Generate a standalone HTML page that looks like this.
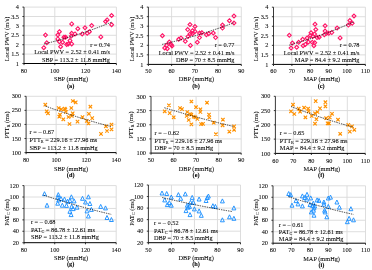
<!DOCTYPE html>
<html><head><meta charset="utf-8"><style>
html,body{margin:0;padding:0;background:#fff;}
svg{display:block;will-change:transform;}
text{font-family:"Liberation Serif", serif;font-size:6.3px;fill:#000;stroke:#000;stroke-width:0.06px;}
</style></head><body>
<svg width="372" height="270" viewBox="0 0 372 270">
<rect width="372" height="270" fill="#fff"/>
<path d="M54.8 7.1V63.5M85.6 7.1V63.5M116.4 7.1V63.5M24 54.1H116.4M24 44.7H116.4M24 35.3H116.4M24 25.9H116.4M24 16.5H116.4M24 7.1H116.4" stroke="#d9d9d9" stroke-width="0.9" fill="none"/>
<path d="M24 7.1V63.5M22.4 63.5H24M22.4 54.1H24M22.4 44.7H24M22.4 35.3H24M22.4 25.9H24M22.4 16.5H24M22.4 7.1H24M24 63.5V65.1M54.8 63.5V65.1M85.6 63.5V65.1M116.4 63.5V65.1" stroke="#222" stroke-width="0.9" fill="none"/>
<path d="M24 63.5H116.4" stroke="#000" stroke-width="1.0" fill="none"/>
<path d="M45.5 33.05L47.45 35L45.5 36.95L43.55 35ZM46.8 40.85L48.75 42.8L46.8 44.75L44.85 42.8ZM43.8 45.75L45.75 47.7L43.8 49.65L41.85 47.7ZM59.4 29.75L61.35 31.7L59.4 33.65L57.45 31.7ZM57.8 33.05L59.75 35L57.8 36.95L55.85 35ZM57.8 36.95L59.75 38.9L57.8 40.85L55.85 38.9ZM59.4 39.75L61.35 41.7L59.4 43.65L57.45 41.7ZM62.6 40.25L64.55 42.2L62.6 44.15L60.65 42.2ZM63.9 35.25L65.85 37.2L63.9 39.15L61.95 37.2ZM65.6 35.25L67.55 37.2L65.6 39.15L63.65 37.2ZM60.6 44.75L62.55 46.7L60.6 48.65L58.65 46.7ZM66.7 42.45L68.65 44.4L66.7 46.35L64.75 44.4ZM68.3 41.95L70.25 43.9L68.3 45.85L66.35 43.9ZM71.7 41.95L73.65 43.9L71.7 45.85L69.75 43.9ZM70 38.65L71.95 40.6L70 42.55L68.05 40.6ZM71.7 31.35L73.65 33.3L71.7 35.25L69.75 33.3ZM71.4 34.15L73.35 36.1L71.4 38.05L69.45 36.1ZM75 31.95L76.95 33.9L75 35.85L73.05 33.9ZM77.8 26.75L79.75 28.7L77.8 30.65L75.85 28.7ZM82.2 31.95L84.15 33.9L82.2 35.85L80.25 33.9ZM85 25.85L86.95 27.8L85 29.75L83.05 27.8ZM87.2 31.35L89.15 33.3L87.2 35.25L85.25 33.3ZM89.4 29.75L91.35 31.7L89.4 33.65L87.45 31.7ZM91.7 23.65L93.65 25.6L91.7 27.55L89.75 25.6ZM71.7 21.95L73.65 23.9L71.7 25.85L69.75 23.9ZM100.8 34.95L102.75 36.9L100.8 38.85L98.85 36.9ZM105.6 19.45L107.55 21.4L105.6 23.35L103.65 21.4ZM107.1 17.95L109.05 19.9L107.1 21.85L105.15 19.9ZM111.6 13.55L113.55 15.5L111.6 17.45L109.65 15.5ZM111.6 22.75L113.55 24.7L111.6 26.65L109.65 24.7Z" stroke="#ff1466" stroke-width="1.1" fill="none"/>
<path d="M43.9 43.98Q77.8 35.99 111.7 22.09" stroke="#000" stroke-width="0.75" stroke-dasharray="1.4 1.0" fill="none"/>
<text x="19" y="65.6" text-anchor="end">1</text>
<text x="19" y="56.2" text-anchor="end">1.5</text>
<text x="19" y="46.8" text-anchor="end">2</text>
<text x="19" y="37.4" text-anchor="end">2.5</text>
<text x="19" y="28" text-anchor="end">3</text>
<text x="19" y="18.6" text-anchor="end">3.5</text>
<text x="19" y="9.2" text-anchor="end">4</text>
<text x="24" y="72.7" text-anchor="middle">80</text>
<text x="54.8" y="72.7" text-anchor="middle">100</text>
<text x="85.6" y="72.7" text-anchor="middle">120</text>
<text x="116.4" y="72.7" text-anchor="middle">140</text>
<text x="71" y="81.3" text-anchor="middle">SBP (mmHg)</text>
<text x="70.7" y="87.5" text-anchor="middle" font-weight="bold">(a)</text>
<text transform="translate(9.3 39) rotate(-90)" text-anchor="middle">Local PWV (m/s)</text>
<text x="110" y="46.7" text-anchor="end">r = 0.74</text>
<text x="110" y="54.4" text-anchor="end">Local PWV = 2.52 ± 0.41 m/s</text>
<text x="110" y="61.7" text-anchor="end">SBP = 113.2 ± 11.8 mmHg</text>
<path d="M171.62 7.1V64.4M194.85 7.1V64.4M218.08 7.1V64.4M241.3 7.1V64.4M148.4 54.85H241.3M148.4 45.3H241.3M148.4 35.75H241.3M148.4 26.2H241.3M148.4 16.65H241.3M148.4 7.1H241.3" stroke="#d9d9d9" stroke-width="0.9" fill="none"/>
<path d="M148.4 7.1V64.4M146.8 64.4H148.4M146.8 54.85H148.4M146.8 45.3H148.4M146.8 35.75H148.4M146.8 26.2H148.4M146.8 16.65H148.4M146.8 7.1H148.4M148.4 64.4V66M171.62 64.4V66M194.85 64.4V66M218.08 64.4V66M241.3 64.4V66" stroke="#222" stroke-width="0.9" fill="none"/>
<path d="M148.4 64.4H241.3" stroke="#000" stroke-width="1.0" fill="none"/>
<path d="M162.4 33.75L164.35 35.7L162.4 37.65L160.45 35.7ZM164.7 46.05L166.65 48L164.7 49.95L162.75 48ZM167.3 46.75L169.25 48.7L167.3 50.65L165.35 48.7ZM166.7 43.35L168.65 45.3L166.7 47.25L164.75 45.3ZM169.3 40.05L171.25 42L169.3 43.95L167.35 42ZM171.3 42.75L173.25 44.7L171.3 46.65L169.35 44.7ZM172 44.05L173.95 46L172 47.95L170.05 46ZM178.7 37.35L180.65 39.3L178.7 41.25L176.75 39.3ZM181 36.05L182.95 38L181 39.95L179.05 38ZM185.3 39.35L187.25 41.3L185.3 43.25L183.35 41.3ZM187.7 27.65L189.65 29.6L187.7 31.55L185.75 29.6ZM190 22.55L191.95 24.5L190 26.45L188.05 24.5ZM188 34.55L189.95 36.5L188 38.45L186.05 36.5ZM190.2 31.85L192.15 33.8L190.2 35.75L188.25 33.8ZM190.4 43.45L192.35 45.4L190.4 47.35L188.45 45.4ZM192.5 28.75L194.45 30.7L192.5 32.65L190.55 30.7ZM195 24.55L196.95 26.5L195 28.45L193.05 26.5ZM195 29.45L196.95 31.4L195 33.35L193.05 31.4ZM192.4 31.75L194.35 33.7L192.4 35.65L190.45 33.7ZM199.5 31.05L201.45 33L199.5 34.95L197.55 33ZM201.8 30.75L203.75 32.7L201.8 34.65L199.85 32.7ZM199.5 35.65L201.45 37.6L199.5 39.55L197.55 37.6ZM197.3 40.25L199.25 42.2L197.3 44.15L195.35 42.2ZM206.4 32.85L208.35 34.8L206.4 36.75L204.45 34.8ZM208.7 31.75L210.65 33.7L208.7 35.65L206.75 33.7ZM213.3 31.05L215.25 33L213.3 34.95L211.35 33ZM215.6 35.65L217.55 37.6L215.6 39.55L213.65 37.6ZM222.5 23.05L224.45 25L222.5 26.95L220.55 25ZM222.5 26.15L224.45 28.1L222.5 30.05L220.55 28.1ZM229.4 18.75L231.35 20.7L229.4 22.65L227.45 20.7ZM234 14.15L235.95 16.1L234 18.05L232.05 16.1ZM234 21.05L235.95 23L234 24.95L232.05 23Z" stroke="#ff1466" stroke-width="1.1" fill="none"/>
<path d="M162.1 44.42Q198 36.18 233.9 22.78" stroke="#000" stroke-width="0.75" stroke-dasharray="1.4 1.0" fill="none"/>
<text x="143.4" y="66.5" text-anchor="end">1</text>
<text x="143.4" y="56.95" text-anchor="end">1.5</text>
<text x="143.4" y="47.4" text-anchor="end">2</text>
<text x="143.4" y="37.85" text-anchor="end">2.5</text>
<text x="143.4" y="28.3" text-anchor="end">3</text>
<text x="143.4" y="18.75" text-anchor="end">3.5</text>
<text x="143.4" y="9.2" text-anchor="end">4</text>
<text x="148.4" y="73.3" text-anchor="middle">50</text>
<text x="171.62" y="73.3" text-anchor="middle">60</text>
<text x="194.85" y="73.3" text-anchor="middle">70</text>
<text x="218.08" y="73.3" text-anchor="middle">80</text>
<text x="241.3" y="73.3" text-anchor="middle">90</text>
<text x="196.4" y="81.3" text-anchor="middle">DBP (mmHg)</text>
<text x="196.1" y="87.6" text-anchor="middle" font-weight="bold">(b)</text>
<text transform="translate(133.7 39) rotate(-90)" text-anchor="middle">Local PWV (m/s)</text>
<text x="234.5" y="47.2" text-anchor="end">r = 0.77</text>
<text x="234.5" y="54.8" text-anchor="end">Local PWV = 2.52 ± 0.41 m/s</text>
<text x="234.5" y="62.1" text-anchor="end">DBP = 70 ± 8.5 mmHg</text>
<path d="M291.88 7.2V64.4M310.26 7.2V64.4M328.64 7.2V64.4M347.02 7.2V64.4M365.4 7.2V64.4M273.5 54.87H365.4M273.5 45.33H365.4M273.5 35.8H365.4M273.5 26.27H365.4M273.5 16.73H365.4M273.5 7.2H365.4" stroke="#d9d9d9" stroke-width="0.9" fill="none"/>
<path d="M273.5 7.2V64.4M271.9 64.4H273.5M271.9 54.87H273.5M271.9 45.33H273.5M271.9 35.8H273.5M271.9 26.27H273.5M271.9 16.73H273.5M271.9 7.2H273.5M273.5 64.4V66M291.88 64.4V66M310.26 64.4V66M328.64 64.4V66M347.02 64.4V66M365.4 64.4V66" stroke="#222" stroke-width="0.9" fill="none"/>
<path d="M273.5 64.4H365.4" stroke="#000" stroke-width="1.0" fill="none"/>
<path d="M289.3 33.35L291.25 35.3L289.3 37.25L287.35 35.3ZM292.4 41.15L294.35 43.1L292.4 45.05L290.45 43.1ZM291.1 46.05L293.05 48L291.1 49.95L289.15 48ZM296.7 45.35L298.65 47.3L296.7 49.25L294.75 47.3ZM298.7 40.35L300.65 42.3L298.7 44.25L296.75 42.3ZM302.7 37.35L304.65 39.3L302.7 41.25L300.75 39.3ZM303.1 43.75L305.05 45.7L303.1 47.65L301.15 45.7ZM305.3 42.45L307.25 44.4L305.3 46.35L303.35 44.4ZM307.1 36.05L309.05 38L307.1 39.95L305.15 38ZM308.4 40.05L310.35 42L308.4 43.95L306.45 42ZM311 30.75L312.95 32.7L311 34.65L309.05 32.7ZM310.3 33.55L312.25 35.5L310.3 37.45L308.35 35.5ZM312.3 40.35L314.25 42.3L312.3 44.25L310.35 42.3ZM313.9 43.75L315.85 45.7L313.9 47.65L311.95 45.7ZM314.7 40.75L316.65 42.7L314.7 44.65L312.75 42.7ZM315 22.25L316.95 24.2L315 26.15L313.05 24.2ZM315.8 27.55L317.75 29.5L315.8 31.45L313.85 29.5ZM314.6 32.05L316.55 34L314.6 35.95L312.65 34ZM317 35.65L318.95 37.6L317 39.55L315.05 37.6ZM319.2 35.25L321.15 37.2L319.2 39.15L317.25 37.2ZM312.7 34.45L314.65 36.4L312.7 38.35L310.75 36.4ZM325.1 23.85L327.05 25.8L325.1 27.75L323.15 25.8ZM325.1 29.15L327.05 31.1L325.1 33.05L323.15 31.1ZM326.6 31.35L328.55 33.3L326.6 35.25L324.65 33.3ZM324.3 32.85L326.25 34.8L324.3 36.75L322.35 34.8ZM328.8 31.35L330.75 33.3L328.8 35.25L326.85 33.3ZM331.8 30.65L333.75 32.6L331.8 34.55L329.85 32.6ZM337.1 26.15L339.05 28.1L337.1 30.05L335.15 28.1ZM340.1 35.95L342.05 37.9L340.1 39.85L338.15 37.9ZM348.4 23.15L350.35 25.1L348.4 27.05L346.45 25.1ZM349.9 18.55L351.85 20.5L349.9 22.45L347.95 20.5ZM352.2 21.35L354.15 23.3L352.2 25.25L350.25 23.3ZM354 14.05L355.95 16L354 17.95L352.05 16Z" stroke="#ff1466" stroke-width="1.1" fill="none"/>
<path d="M289.2 45.13Q321.4 36.28 353.5 22.04" stroke="#000" stroke-width="0.75" stroke-dasharray="1.4 1.0" fill="none"/>
<text x="268.5" y="66.5" text-anchor="end">1</text>
<text x="268.5" y="56.97" text-anchor="end">1.5</text>
<text x="268.5" y="47.43" text-anchor="end">2</text>
<text x="268.5" y="37.9" text-anchor="end">2.5</text>
<text x="268.5" y="28.37" text-anchor="end">3</text>
<text x="268.5" y="18.83" text-anchor="end">3.5</text>
<text x="268.5" y="9.3" text-anchor="end">4</text>
<text x="273.5" y="73.3" text-anchor="middle">60</text>
<text x="291.88" y="73.3" text-anchor="middle">70</text>
<text x="310.26" y="73.3" text-anchor="middle">80</text>
<text x="328.64" y="73.3" text-anchor="middle">90</text>
<text x="347.02" y="73.3" text-anchor="middle">100</text>
<text x="365.4" y="73.3" text-anchor="middle">110</text>
<text x="321.8" y="81.3" text-anchor="middle">MAP (mmHg)</text>
<text x="321.2" y="87.6" text-anchor="middle" font-weight="bold">(c)</text>
<text transform="translate(258.1 39) rotate(-90)" text-anchor="middle">Local PWV (m/s)</text>
<text x="359.5" y="47.1" text-anchor="end">r = 0.78</text>
<text x="359.5" y="54.8" text-anchor="end">Local PWV = 2.52 ± 0.41 m/s</text>
<text x="359.5" y="62.1" text-anchor="end">MAP = 84.4 ± 9.2 mmHg</text>
<path d="M56.13 96.3V152.6M86.17 96.3V152.6M116.2 96.3V152.6M26.1 138.53H116.2M26.1 124.45H116.2M26.1 110.38H116.2M26.1 96.3H116.2" stroke="#d9d9d9" stroke-width="0.9" fill="none"/>
<path d="M26.1 96.3V152.6M24.5 152.6H26.1M24.5 138.53H26.1M24.5 124.45H26.1M24.5 110.38H26.1M24.5 96.3H26.1M26.1 152.6V154.2M56.13 152.6V154.2M86.17 152.6V154.2M116.2 152.6V154.2" stroke="#222" stroke-width="0.9" fill="none"/>
<path d="M26.1 152.6H116.2" stroke="#000" stroke-width="1.0" fill="none"/>
<path d="M43.6 103L47 106.4M47 103L43.6 106.4M45 109.6L48.4 113M48.4 109.6L45 113M46.3 111.6L49.7 115M49.7 111.6L46.3 115M57 106.3L60.4 109.7M60.4 106.3L57 109.7M59.6 107.6L63 111M63 107.6L59.6 111M58.3 113L61.7 116.4M61.7 113L58.3 116.4M57.6 115L61 118.4M61 115L57.6 118.4M63 107L66.4 110.4M66.4 107L63 110.4M61.6 117.6L65 121M65 117.6L61.6 121M64.3 110.3L67.7 113.7M67.7 110.3L64.3 113.7M63.7 107.8L67.1 111.2M67.1 107.8L63.7 111.2M69.6 106.3L73 109.7M73 106.3L69.6 109.7M71.1 99.3L74.5 102.7M74.5 99.3L71.1 102.7M74 100.7L77.4 104.1M77.4 100.7L74 104.1M66.8 115.3L70.2 118.7M70.2 115.3L66.8 118.7M67.8 122.3L71.2 125.7M71.2 122.3L67.8 125.7M71 111.6L74.4 115M74.4 111.6L71 115M70.1 114.3L73.5 117.7M73.5 114.3L70.1 117.7M75.8 119.9L79.2 123.3M79.2 119.9L75.8 123.3M80.8 115.4L84.2 118.8M84.2 115.4L80.8 118.8M88.7 105L92.1 108.4M92.1 105L88.7 108.4M87.2 112.1L90.6 115.5M90.6 112.1L87.2 115.5M90.5 116.4L93.9 119.8M93.9 116.4L90.5 119.8M85.1 119.2L88.5 122.6M88.5 119.2L85.1 122.6M86.8 121.8L90.2 125.2M90.2 121.8L86.8 125.2M104.2 124.6L107.6 128M107.6 124.6L104.2 128M109.8 122.8L113.2 126.2M113.2 122.8L109.8 126.2M109.8 127.6L113.2 131M113.2 127.6L109.8 131M105.3 129.3L108.7 132.7M108.7 129.3L105.3 132.7M99.3 132.2L102.7 135.6M102.7 132.2L99.3 135.6" stroke="#ff9100" stroke-width="1.15" fill="none"/>
<path d="M45.4 106.11Q78.5 118.19 111.5 126.68" stroke="#000" stroke-width="0.75" stroke-dasharray="1.4 1.0" fill="none"/>
<text x="21.1" y="154.7" text-anchor="end">100</text>
<text x="21.1" y="140.62" text-anchor="end">150</text>
<text x="21.1" y="126.55" text-anchor="end">200</text>
<text x="21.1" y="112.47" text-anchor="end">250</text>
<text x="21.1" y="98.4" text-anchor="end">300</text>
<text x="26.1" y="162.1" text-anchor="middle">80</text>
<text x="56.13" y="162.1" text-anchor="middle">100</text>
<text x="86.17" y="162.1" text-anchor="middle">120</text>
<text x="116.2" y="162.1" text-anchor="middle">140</text>
<text x="71" y="170.5" text-anchor="middle">SBP (mmHg)</text>
<text x="70.7" y="176.7" text-anchor="middle" font-weight="bold">(d)</text>
<text transform="translate(8.8 125) rotate(-90)" text-anchor="middle">PTT<tspan font-size="4.2" dy="1.2">R</tspan><tspan dy="-1.2"> (ms)</tspan></text>
<text x="29.6" y="134.4" text-anchor="start">r = – 0.67</text>
<text x="29.6" y="142" text-anchor="start">PTT<tspan font-size="4.2" dy="1.2">R</tspan><tspan dy="-1.2"> = 229.16 ± 27.96 ms</tspan></text>
<text x="29.6" y="149.5" text-anchor="start">SBP = 113.2 ± 11.8 mmHg</text>
<path d="M173.55 96.4V153.1M196.1 96.4V153.1M218.65 96.4V153.1M241.2 96.4V153.1M151 138.93H241.2M151 124.75H241.2M151 110.58H241.2M151 96.4H241.2" stroke="#d9d9d9" stroke-width="0.9" fill="none"/>
<path d="M151 96.4V153.1M149.4 153.1H151M149.4 138.93H151M149.4 124.75H151M149.4 110.58H151M149.4 96.4H151M151 153.1V154.7M173.55 153.1V154.7M196.1 153.1V154.7M218.65 153.1V154.7M241.2 153.1V154.7" stroke="#222" stroke-width="0.9" fill="none"/>
<path d="M151 153.1H241.2" stroke="#000" stroke-width="1.0" fill="none"/>
<path d="M167.2 103.6L170.6 107M170.6 103.6L167.2 107M163 109.6L166.4 113M166.4 109.6L163 113M168 111.4L171.4 114.8M171.4 111.4L168 114.8M172 115.6L175.4 119M175.4 115.6L172 119M178.3 106.3L181.7 109.7M181.7 106.3L178.3 109.7M180.3 107.4L183.7 110.8M183.7 107.4L180.3 110.8M189.7 99.8L193.1 103.2M193.1 99.8L189.7 103.2M194.3 105.5L197.7 108.9M197.7 105.5L194.3 108.9M185.6 110.3L189 113.7M189 110.3L185.6 113.7M188.3 112.3L191.7 115.7M191.7 112.3L188.3 115.7M185 114.3L188.4 117.7M188.4 114.3L185 117.7M189.6 113L193 116.4M193 113L189.6 116.4M187 118.3L190.4 121.7M190.4 118.3L187 121.7M189.7 122.7L193.1 126.1M193.1 122.7L189.7 126.1M193.6 115.6L197 119M197 115.6L193.6 119M205.3 101L208.7 104.4M208.7 101L205.3 104.4M198.7 107.6L202.1 111M202.1 107.6L198.7 111M198.7 110.3L202.1 113.7M202.1 110.3L198.7 113.7M192 115L195.4 118.4M195.4 115L192 118.4M195.7 117.3L199.1 120.7M199.1 117.3L195.7 120.7M199.4 122.4L202.8 125.8M202.8 122.4L199.4 125.8M201.3 122.2L204.7 125.6M204.7 122.2L201.3 125.6M207.3 112.8L210.7 116.2M210.7 112.8L207.3 116.2M207.6 115.8L211 119.2M211 115.8L207.6 119.2M212 121L215.4 124.4M215.4 121L212 124.4M221.2 118L224.6 121.4M224.6 118L221.2 121.4M220.9 123.6L224.3 127M224.3 123.6L220.9 127M214.2 132.5L217.6 135.9M217.6 132.5L214.2 135.9M227.6 129.9L231 133.3M231 129.9L227.6 133.3M232.4 124.7L235.8 128.1M235.8 124.7L232.4 128.1M232.4 128.1L235.8 131.5M235.8 128.1L232.4 131.5" stroke="#ff9100" stroke-width="1.15" fill="none"/>
<path d="M164.4 107.75Q199.2 118.47 234.1 126.58" stroke="#000" stroke-width="0.75" stroke-dasharray="1.4 1.0" fill="none"/>
<text x="146" y="155.2" text-anchor="end">100</text>
<text x="146" y="141.03" text-anchor="end">150</text>
<text x="146" y="126.85" text-anchor="end">200</text>
<text x="146" y="112.67" text-anchor="end">250</text>
<text x="146" y="98.5" text-anchor="end">300</text>
<text x="151" y="162.3" text-anchor="middle">50</text>
<text x="173.55" y="162.3" text-anchor="middle">60</text>
<text x="196.1" y="162.3" text-anchor="middle">70</text>
<text x="218.65" y="162.3" text-anchor="middle">80</text>
<text x="241.2" y="162.3" text-anchor="middle">90</text>
<text x="196.4" y="170.5" text-anchor="middle">DBP (mmHg)</text>
<text x="196.1" y="176.8" text-anchor="middle" font-weight="bold">(e)</text>
<text transform="translate(133.1 125) rotate(-90)" text-anchor="middle">PTT<tspan font-size="4.2" dy="1.2">R</tspan><tspan dy="-1.2"> (ms)</tspan></text>
<text x="154.6" y="135.3" text-anchor="start">r = – 0.62</text>
<text x="154.6" y="142.6" text-anchor="start">PTT<tspan font-size="4.2" dy="1.2">R</tspan><tspan dy="-1.2"> = 229.16 ± 27.96 ms</tspan></text>
<text x="154.6" y="149.8" text-anchor="start">DBP = 70 ± 8.5 mmHg</text>
<path d="M293.38 96.3V153.4M311.36 96.3V153.4M329.34 96.3V153.4M347.32 96.3V153.4M365.3 96.3V153.4M275.4 139.12H365.3M275.4 124.85H365.3M275.4 110.58H365.3M275.4 96.3H365.3" stroke="#d9d9d9" stroke-width="0.9" fill="none"/>
<path d="M275.4 96.3V153.4M273.8 153.4H275.4M273.8 139.12H275.4M273.8 124.85H275.4M273.8 110.58H275.4M273.8 96.3H275.4M275.4 153.4V155M293.38 153.4V155M311.36 153.4V155M329.34 153.4V155M347.32 153.4V155M365.3 153.4V155" stroke="#222" stroke-width="0.9" fill="none"/>
<path d="M275.4 153.4H365.3" stroke="#000" stroke-width="1.0" fill="none"/>
<path d="M291.3 103L294.7 106.4M294.7 103L291.3 106.4M289.3 109.6L292.7 113M292.7 109.6L289.3 113M292.6 112.3L296 115.7M296 112.3L292.6 115.7M297 107L300.4 110.4M300.4 107L297 110.4M298.4 110L301.8 113.4M301.8 110L298.4 113.4M302.4 106L305.8 109.4M305.8 106L302.4 109.4M306.4 107L309.8 110.4M309.8 107L306.4 110.4M306.9 109.6L310.3 113M310.3 109.6L306.9 113M303.7 115.6L307.1 119M307.1 115.6L303.7 119M314 99.4L317.4 102.8M317.4 99.4L314 102.8M318.3 106.7L321.7 110.1M321.7 106.7L318.3 110.1M315.8 110.3L319.2 113.7M319.2 110.3L315.8 113.7M313.3 111.6L316.7 115M316.7 111.6L313.3 115M310 114.3L313.4 117.7M313.4 114.3L310 117.7M314.7 117.5L318.1 120.9M318.1 117.5L314.7 120.9M313.3 122L316.7 125.4M316.7 122L313.3 125.4M323.7 100.5L327.1 103.9M327.1 100.5L323.7 103.9M323.7 104.7L327.1 108.1M327.1 104.7L323.7 108.1M324.4 116.5L327.8 119.9M327.8 116.5L324.4 119.9M328.1 115.8L331.5 119.2M331.5 115.8L328.1 119.2M330.3 112.1L333.7 115.5M333.7 112.1L330.3 115.5M325.9 121.7L329.3 125.1M329.3 121.7L325.9 125.1M327.4 121.7L330.8 125.1M330.8 121.7L327.4 125.1M336.3 118L339.7 121.4M339.7 118L336.3 121.4M346.6 123.2L350 126.6M350 123.2L346.6 126.6M350.3 124.7L353.7 128.1M353.7 124.7L350.3 128.1M348.1 129.9L351.5 133.3M351.5 129.9L348.1 133.3M352.6 128.1L356 131.5M356 128.1L352.6 131.5M338.5 132.1L341.9 135.5M341.9 132.1L338.5 135.5" stroke="#ff9100" stroke-width="1.15" fill="none"/>
<path d="M291 106.51Q322.1 118.7 353.2 127.14" stroke="#000" stroke-width="0.75" stroke-dasharray="1.4 1.0" fill="none"/>
<text x="270.4" y="155.5" text-anchor="end">100</text>
<text x="270.4" y="141.22" text-anchor="end">150</text>
<text x="270.4" y="126.95" text-anchor="end">200</text>
<text x="270.4" y="112.67" text-anchor="end">250</text>
<text x="270.4" y="98.4" text-anchor="end">300</text>
<text x="275.4" y="162.7" text-anchor="middle">60</text>
<text x="293.38" y="162.7" text-anchor="middle">70</text>
<text x="311.36" y="162.7" text-anchor="middle">80</text>
<text x="329.34" y="162.7" text-anchor="middle">90</text>
<text x="347.32" y="162.7" text-anchor="middle">100</text>
<text x="365.3" y="162.7" text-anchor="middle">110</text>
<text x="321.8" y="170.6" text-anchor="middle">MAP (mmHg)</text>
<text x="321.2" y="176.9" text-anchor="middle" font-weight="bold">(f)</text>
<text transform="translate(258.1 125) rotate(-90)" text-anchor="middle">PTT<tspan font-size="4.2" dy="1.2">R</tspan><tspan dy="-1.2"> (ms)</tspan></text>
<text x="279.8" y="135" text-anchor="start">r = – 0.65</text>
<text x="279.8" y="142.5" text-anchor="start">PTT<tspan font-size="4.2" dy="1.2">R</tspan><tspan dy="-1.2"> = 229.16 ± 27.96 ms</tspan></text>
<text x="279.8" y="149.6" text-anchor="start">MAP = 84.4 ± 9.2 mmHg</text>
<path d="M54.73 185.6V242.7M85.47 185.6V242.7M116.2 185.6V242.7M24 231.28H116.2M24 219.86H116.2M24 208.44H116.2M24 197.02H116.2M24 185.6H116.2" stroke="#d9d9d9" stroke-width="0.9" fill="none"/>
<path d="M24 185.6V242.7M22.4 242.7H24M22.4 231.28H24M22.4 219.86H24M22.4 208.44H24M22.4 197.02H24M22.4 185.6H24M24 242.7V244.3M54.73 242.7V244.3M85.47 242.7V244.3M116.2 242.7V244.3" stroke="#222" stroke-width="0.9" fill="none"/>
<path d="M24 242.7H116.2" stroke="#000" stroke-width="1.0" fill="none"/>
<path d="M44.5 191.7L46.45 195.7L42.55 195.7ZM47 203.2L48.95 207.2L45.05 207.2ZM58.3 192.6L60.25 196.6L56.35 196.6ZM58 195.2L59.95 199.2L56.05 199.2ZM58.7 197.9L60.65 201.9L56.75 201.9ZM57.7 201.2L59.65 205.2L55.75 205.2ZM61 196.6L62.95 200.6L59.05 200.6ZM64.5 197.1L66.45 201.1L62.55 201.1ZM62.3 203.2L64.25 207.2L60.35 207.2ZM66.5 203.4L68.45 207.4L64.55 207.4ZM67.7 199.2L69.65 203.2L65.75 203.2ZM71.4 194.8L73.35 198.8L69.45 198.8ZM69.9 198.5L71.85 202.5L67.95 202.5ZM74.1 198.9L76.05 202.9L72.15 202.9ZM71.7 204.4L73.65 208.4L69.75 208.4ZM73.2 206.6L75.15 210.6L71.25 210.6ZM77 205.2L78.95 209.2L75.05 209.2ZM69.9 209.3L71.85 213.3L67.95 213.3ZM71.1 212.6L73.05 216.6L69.15 216.6ZM82.5 196.3L84.45 200.3L80.55 200.3ZM88.4 194.8L90.35 198.8L86.45 198.8ZM85.5 200L87.45 204L83.55 204ZM89.9 201.5L91.85 205.5L87.95 205.5ZM87 208.9L88.95 212.9L85.05 212.9ZM91.4 207.4L93.35 211.4L89.45 211.4ZM88.4 214L90.35 218L86.45 218ZM100.7 204.4L102.65 208.4L98.75 208.4ZM105.5 205.9L107.45 209.9L103.55 209.9ZM107 215.5L108.95 219.5L105.05 219.5ZM111.4 217.5L113.35 221.5L109.45 221.5Z" stroke="#1e90ff" stroke-width="0.95" fill="none" stroke-linejoin="miter"/>
<path d="M43.6 195.17Q77.4 206.41 111.2 214.36" stroke="#000" stroke-width="0.75" stroke-dasharray="1.4 1.0" fill="none"/>
<text x="19" y="244.8" text-anchor="end">20</text>
<text x="19" y="233.38" text-anchor="end">40</text>
<text x="19" y="221.96" text-anchor="end">60</text>
<text x="19" y="210.54" text-anchor="end">80</text>
<text x="19" y="199.12" text-anchor="end">100</text>
<text x="19" y="187.7" text-anchor="end">120</text>
<text x="24" y="251.6" text-anchor="middle">80</text>
<text x="54.73" y="251.6" text-anchor="middle">100</text>
<text x="85.47" y="251.6" text-anchor="middle">120</text>
<text x="116.2" y="251.6" text-anchor="middle">140</text>
<text x="71" y="259.7" text-anchor="middle">SBP (mmHg)</text>
<text x="70.7" y="266.2" text-anchor="middle" font-weight="bold">(g)</text>
<text transform="translate(9.1 212.4) rotate(-90)" text-anchor="middle" font-size="6.8">PAT<tspan font-size="4.2" dy="1.2">C</tspan><tspan dy="-1.2"> (ms)</tspan></text>
<text x="30.9" y="224.1" text-anchor="start">r = – 0.68</text>
<text x="30.9" y="232" text-anchor="start">PAT<tspan font-size="4.2" dy="1.2">C</tspan><tspan dy="-1.2"> = 86.78 ± 12.61 ms</tspan></text>
<text x="30.9" y="239.3" text-anchor="start">SBP = 113.2 ± 11.8 mmHg</text>
<path d="M171.43 185V242.7M194.45 185V242.7M217.47 185V242.7M240.5 185V242.7M148.4 231.16H240.5M148.4 219.62H240.5M148.4 208.08H240.5M148.4 196.54H240.5M148.4 185H240.5" stroke="#d9d9d9" stroke-width="0.9" fill="none"/>
<path d="M148.4 185V242.7M146.8 242.7H148.4M146.8 231.16H148.4M146.8 219.62H148.4M146.8 208.08H148.4M146.8 196.54H148.4M146.8 185H148.4M148.4 242.7V244.3M171.43 242.7V244.3M194.45 242.7V244.3M217.47 242.7V244.3M240.5 242.7V244.3" stroke="#222" stroke-width="0.9" fill="none"/>
<path d="M148.4 242.7H240.5" stroke="#000" stroke-width="1.0" fill="none"/>
<path d="M162 191L163.95 195L160.05 195ZM166.7 191.5L168.65 195.5L164.75 195.5ZM164.7 197.9L166.65 201.9L162.75 201.9ZM171.3 195L173.25 199L169.35 199ZM167.3 202.6L169.25 206.6L165.35 206.6ZM169.3 200.6L171.25 204.6L167.35 204.6ZM171.3 203.2L173.25 207.2L169.35 207.2ZM178.4 192.6L180.35 196.6L176.45 196.6ZM180.7 196.3L182.65 200.3L178.75 200.3ZM185.3 191.9L187.25 195.9L183.35 195.9ZM192.2 195.4L194.15 199.4L190.25 199.4ZM190.5 200.3L192.45 204.3L188.55 204.3ZM193.3 200.3L195.25 204.3L191.35 204.3ZM187.3 203.2L189.25 207.2L185.35 207.2ZM188 205.2L189.95 209.2L186.05 209.2ZM186 208.6L187.95 212.6L184.05 212.6ZM190 212.6L191.95 216.6L188.05 216.6ZM194.4 206.9L196.35 210.9L192.45 210.9ZM199.1 197L201.05 201L197.15 201ZM189.5 204.4L191.45 208.4L187.55 208.4ZM199.1 208.9L201.05 212.9L197.15 212.9ZM201.3 213.3L203.25 217.3L199.35 217.3ZM208.4 194L210.35 198L206.45 198ZM207.3 195.5L209.25 199.5L205.35 199.5ZM206.1 198.5L208.05 202.5L204.15 202.5ZM212.9 203.7L214.85 207.7L210.95 207.7ZM215.4 204.4L217.35 208.4L213.45 208.4ZM222.4 198.9L224.35 202.9L220.45 202.9ZM233.9 205.9L235.85 209.9L231.95 209.9ZM229.5 214.8L231.45 218.8L227.55 218.8ZM233.9 216.3L235.85 220.3L231.95 220.3ZM222.4 217.8L224.35 221.8L220.45 221.8Z" stroke="#1e90ff" stroke-width="0.95" fill="none" stroke-linejoin="miter"/>
<path d="M162.2 197.52Q197.3 205.89 232.5 211.57" stroke="#000" stroke-width="0.75" stroke-dasharray="1.4 1.0" fill="none"/>
<text x="143.4" y="244.8" text-anchor="end">20</text>
<text x="143.4" y="233.26" text-anchor="end">40</text>
<text x="143.4" y="221.72" text-anchor="end">60</text>
<text x="143.4" y="210.18" text-anchor="end">80</text>
<text x="143.4" y="198.64" text-anchor="end">100</text>
<text x="143.4" y="187.1" text-anchor="end">120</text>
<text x="148.4" y="251.6" text-anchor="middle">50</text>
<text x="171.43" y="251.6" text-anchor="middle">60</text>
<text x="194.45" y="251.6" text-anchor="middle">70</text>
<text x="217.47" y="251.6" text-anchor="middle">80</text>
<text x="240.5" y="251.6" text-anchor="middle">90</text>
<text x="196.2" y="259.7" text-anchor="middle">DBP (mmHg)</text>
<text x="196" y="266.2" text-anchor="middle" font-weight="bold">(h)</text>
<text transform="translate(133.6 212.4) rotate(-90)" text-anchor="middle" font-size="6.8">PAT<tspan font-size="4.2" dy="1.2">C</tspan><tspan dy="-1.2"> (ms)</tspan></text>
<text x="154" y="225.4" text-anchor="start">r = – 0.52</text>
<text x="154" y="232.6" text-anchor="start">PAT<tspan font-size="4.2" dy="1.2">C</tspan><tspan dy="-1.2"> = 86.78 ± 12.61 ms</tspan></text>
<text x="154" y="239.9" text-anchor="start">DBP = 70 ± 8.5 mmHg</text>
<path d="M291.5 185.8V243.2M310 185.8V243.2M328.5 185.8V243.2M347 185.8V243.2M365.5 185.8V243.2M273 231.72H365.5M273 220.24H365.5M273 208.76H365.5M273 197.28H365.5M273 185.8H365.5" stroke="#d9d9d9" stroke-width="0.9" fill="none"/>
<path d="M273 185.8V243.2M271.4 243.2H273M271.4 231.72H273M271.4 220.24H273M271.4 208.76H273M271.4 197.28H273M271.4 185.8H273M273 243.2V244.8M291.5 243.2V244.8M310 243.2V244.8M328.5 243.2V244.8M347 243.2V244.8M365.5 243.2V244.8" stroke="#222" stroke-width="0.9" fill="none"/>
<path d="M273 243.2H365.5" stroke="#000" stroke-width="1.0" fill="none"/>
<path d="M288.7 191.5L290.65 195.5L286.75 195.5ZM290.7 192.6L292.65 196.6L288.75 196.6ZM292 203.2L293.95 207.2L290.05 207.2ZM296 198.6L297.95 202.6L294.05 202.6ZM298 201.9L299.95 205.9L296.05 205.9ZM302.4 203.9L304.35 207.9L300.45 207.9ZM302.4 193.9L304.35 197.9L300.45 197.9ZM304.7 195.5L306.65 199.5L302.75 199.5ZM307 192.3L308.95 196.3L305.05 196.3ZM306.7 197.2L308.65 201.2L304.75 201.2ZM310.7 195.9L312.65 199.9L308.75 199.9ZM310 202.6L311.95 206.6L308.05 206.6ZM313.3 201.2L315.25 205.2L311.35 205.2ZM314.7 203.9L316.65 207.9L312.75 207.9ZM314 205.9L315.95 209.9L312.05 209.9ZM311.3 209.9L313.25 213.9L309.35 213.9ZM314 213.2L315.95 217.2L312.05 217.2ZM317.1 197.9L319.05 201.9L315.15 201.9ZM319 198.4L320.95 202.4L317.05 202.4ZM312.7 203.7L314.65 207.7L310.75 207.7ZM313.5 208.2L315.45 212.2L311.55 212.2ZM323.9 200L325.85 204L321.95 204ZM323.9 202.2L325.85 206.2L321.95 206.2ZM324.6 208.2L326.55 212.2L322.65 212.2ZM325.1 209.9L327.05 213.9L323.15 213.9ZM326.8 214.8L328.75 218.8L324.85 218.8ZM328.3 196L330.25 200L326.35 200ZM330.5 195.1L332.45 199.1L328.55 199.1ZM328.3 204.4L330.25 208.4L326.35 208.4ZM336.9 200L338.85 204L334.95 204ZM339.4 205.2L341.35 209.2L337.45 209.2ZM350.9 206.7L352.85 210.7L348.95 210.7ZM349.1 216.3L351.05 220.3L347.15 220.3ZM353.5 217.8L355.45 221.8L351.55 221.8ZM347.3 219.7L349.25 223.7L345.35 223.7Z" stroke="#1e90ff" stroke-width="0.95" fill="none" stroke-linejoin="miter"/>
<path d="M288.4 196.68Q320.9 207.25 353.5 214.44" stroke="#000" stroke-width="0.75" stroke-dasharray="1.4 1.0" fill="none"/>
<text x="268" y="245.3" text-anchor="end">20</text>
<text x="268" y="233.82" text-anchor="end">40</text>
<text x="268" y="222.34" text-anchor="end">60</text>
<text x="268" y="210.86" text-anchor="end">80</text>
<text x="268" y="199.38" text-anchor="end">100</text>
<text x="268" y="187.9" text-anchor="end">120</text>
<text x="273" y="252.4" text-anchor="middle">60</text>
<text x="291.5" y="252.4" text-anchor="middle">70</text>
<text x="310" y="252.4" text-anchor="middle">80</text>
<text x="328.5" y="252.4" text-anchor="middle">90</text>
<text x="347" y="252.4" text-anchor="middle">100</text>
<text x="365.5" y="252.4" text-anchor="middle">110</text>
<text x="321.6" y="260.5" text-anchor="middle">MAP (mmHg)</text>
<text x="321.4" y="266.9" text-anchor="middle" font-weight="bold">(i)</text>
<text transform="translate(258.1 212.4) rotate(-90)" text-anchor="middle" font-size="6.8">PAT<tspan font-size="4.2" dy="1.2">C</tspan><tspan dy="-1.2"> (ms)</tspan></text>
<text x="278.8" y="226.8" text-anchor="start">r = – 0.61</text>
<text x="278.8" y="233.8" text-anchor="start">PAT<tspan font-size="4.2" dy="1.2">C</tspan><tspan dy="-1.2"> = 86.78 ± 12.61 ms</tspan></text>
<text x="278.8" y="240.8" text-anchor="start">MAP = 84.4 ± 9.2 mmHg</text>
</svg>
</body></html>
